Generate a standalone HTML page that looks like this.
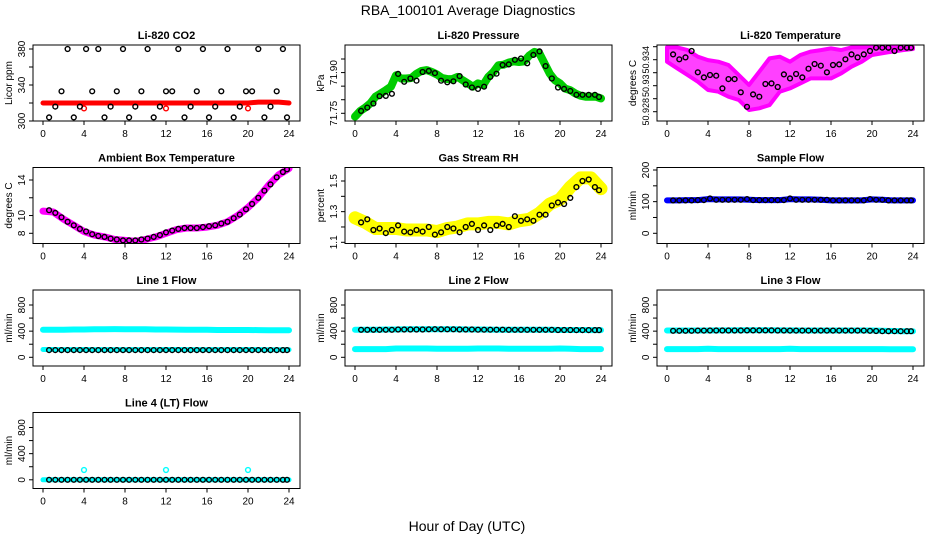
<!DOCTYPE html>
<html><head><meta charset="utf-8"><style>
html,body{margin:0;padding:0;background:#fff;}
svg{display:block;font-family:"Liberation Sans",sans-serif;}
</style></head><body>
<svg id="chart" width="936" height="540" viewBox="0 0 936 540">
<text x="468" y="15" text-anchor="middle" font-size="14">RBA_100101  Average Diagnostics</text>
<text x="467" y="531" text-anchor="middle" font-size="14">Hour of Day (UTC)</text>
</svg>
<script>
// shared sample times (hours) for black average points
const hrs = [0.6,1.2,1.8,2.4,3.0,3.6,4.2,4.8,5.4,6.0,6.6,7.2,7.8,8.4,9.0,9.6,10.2,10.8,11.4,12.0,12.6,13.2,13.8,14.4,15.0,15.6,16.2,16.8,17.4,18.0,18.6,19.2,19.8,20.4,21.0,21.6,22.2,22.8,23.4,23.8];
const hourly = [0,1,2,3,4,5,6,7,8,9,10,11,12,13,14,15,16,17,18,19,20,21,22,23,24];
const half = [0,0.5,1,1.5,2,2.5,3,3.5,4,4.5,5,5.5,6,6.5,7,7.5,8,8.5,9,9.5,10,10.5,11,11.5,12,12.5,13,13.5,14,14.5,15,15.5,16,16.5,17,17.5,18,18.5,19,19.5,20,20.5,21,21.5,22,22.5,23,23.5,24];
const xTicks = [0,4,8,12,16,20,24];

// CO2
const co2Band = [320,320,320,320,320,320,320,320,320,320,320,320,320,320,320,320,320,320,320,320,320,321,321,321,320];
const co2Black = [304,316,333,380,304,316,380,333,380,304,316,333,380,304,316,333,380,304,316,333,333,380,304,316,333,380,304,316,333,380,304,316,333,333,380,304,316,333,380,304];
const co2RedH = [4,12,20];
const co2RedV = [314,314,314];
// Pressure
const presBand = [71.738,71.758,71.771,71.787,71.811,71.823,71.835,71.848,71.890,71.878,71.878,71.880,71.896,71.906,71.909,71.902,71.893,71.880,71.876,71.876,71.884,71.872,71.860,71.848,71.860,71.854,71.884,71.902,71.927,71.929,71.937,71.941,71.939,71.941,71.963,71.976,71.970,71.933,71.896,71.872,71.860,71.841,71.835,71.823,71.815,71.811,71.811,71.811,71.805];
const presBlack = [71.759,71.771,71.786,71.813,71.814,71.822,71.895,71.866,71.878,71.870,71.902,71.906,71.898,71.870,71.864,71.868,71.887,71.856,71.845,71.840,71.848,71.884,71.896,71.928,71.930,71.947,71.952,71.934,71.965,71.978,71.924,71.878,71.845,71.840,71.832,71.818,71.818,71.818,71.818,71.810];
// Li-820 temperature
const tempUpper = [50.93295,50.93295,50.93274,50.93223,50.93197,50.93185,50.93159,50.93082,50.93005,50.93108,50.93210,50.93223,50.93185,50.93236,50.93262,50.93274,50.93287,50.93274,50.93295,50.93295,50.93295,50.93295,50.93295,50.93295,50.93295];
const tempLower = [50.93185,50.93133,50.93082,50.93031,50.92967,50.92954,50.92915,50.92890,50.92813,50.92826,50.92851,50.92954,50.92979,50.93018,50.93056,50.93056,50.93056,50.93095,50.93146,50.93185,50.93236,50.93249,50.93262,50.93274,50.93282];
const tempBlack = [50.93241,50.93203,50.93218,50.93267,50.93103,50.93064,50.93082,50.93077,50.92979,50.93051,50.93051,50.92949,50.92838,50.92933,50.92915,50.93013,50.93018,50.92990,50.93087,50.93056,50.93090,50.93064,50.93131,50.93167,50.93154,50.93103,50.93159,50.93164,50.93203,50.93241,50.93218,50.93241,50.93267,50.93292,50.93292,50.93292,50.93267,50.93292,50.93292,50.93292];
// Ambient box temperature
const ambBand = [10.5,10.4,9.6,8.9,8.2,7.8,7.6,7.3,7.2,7.1,7.3,7.6,8.0,8.4,8.6,8.6,8.7,8.9,9.3,10.0,10.9,12.0,13.4,14.6,15.3];
const ambBlack = [10.6,10.3,9.8,9.3,8.9,8.5,8.2,7.9,7.7,7.6,7.4,7.3,7.2,7.2,7.2,7.3,7.4,7.6,7.8,8.1,8.3,8.5,8.6,8.6,8.6,8.7,8.8,8.9,9.1,9.3,9.7,10.1,10.7,11.3,12.0,12.8,13.5,14.3,14.9,15.2];
// Gas stream RH
const rhBand = [1.26,1.23,1.19,1.19,1.19,1.18,1.18,1.18,1.17,1.19,1.20,1.22,1.22,1.23,1.23,1.22,1.24,1.25,1.29,1.35,1.38,1.46,1.52,1.52,1.45];
const rhBlack = [1.23,1.25,1.18,1.19,1.16,1.18,1.21,1.17,1.165,1.18,1.17,1.20,1.15,1.165,1.20,1.19,1.165,1.20,1.22,1.18,1.21,1.18,1.21,1.22,1.20,1.27,1.24,1.25,1.24,1.28,1.28,1.34,1.36,1.35,1.39,1.46,1.50,1.51,1.46,1.44];
// Sample flow
const sfBand = [104,104,105,105,108,107,107,107,106,105,105,105,108,107,107,106,104,104,104,104,107,106,104,104,104];
const sfBlack = [104,104,104,104,105,105,110,106,106,106,106,106,108,105,105,105,105,105,105,110,106,106,106,106,106,106,104,104,104,104,104,104,108,106,106,104,104,104,104,104];
// Line flows
const l1Upper = [420,420,422,425,425,428,430,432,430,430,428,425,425,424,422,420,420,418,418,418,418,416,415,415,415];
const l1Lower = [120,120,118,118,120,118,118,118,118,118,118,118,120,120,118,118,118,118,118,118,120,118,116,116,116];
const l1Black = [110,110,110,110,110,110,110,110,110,110,110,110,110,110,110,110,110,110,110,110,110,110,110,110,110,110,110,110,110,110,110,110,110,110,110,110,110,110,110,110];
const l2Upper = [420,420,422,425,425,428,430,430,430,430,428,425,425,424,422,420,420,420,420,420,418,418,418,416,416];
const l2Lower = [125,125,125,125,135,135,135,135,130,130,130,130,135,135,135,130,130,130,130,130,135,130,125,125,125];
const l2Black = [420,420,420,420,420,420,425,425,425,425,425,428,430,428,428,428,425,425,425,422,422,422,422,422,420,420,420,420,420,420,420,420,418,418,418,416,416,416,416,416];
const l3Upper = [410,410,410,410,410,412,412,415,415,415,415,412,412,410,410,410,410,410,410,410,410,405,402,400,400];
const l3Lower = [125,125,125,125,130,125,125,125,125,125,125,125,130,125,125,125,125,125,125,125,125,125,122,122,122];
const l3Black = [405,405,405,405,408,408,410,410,410,410,410,410,412,412,412,412,412,410,410,408,408,408,408,408,408,408,408,408,408,408,408,408,405,402,400,400,400,400,400,400];
const l4Band = [0,0,0,0,0,0,0,0,0,0,0,0,0,0,0,0,0,0,0,0,0,0,0,0,0];
const l4Black = [0,0,0,0,0,0,0,0,0,0,0,0,0,0,0,0,0,0,0,0,0,0,0,0,0,0,0,0,0,0,0,0,0,0,0,0,0,0,0,0];
const l4SpikeH = [4,12,20];
const l4SpikeV = [150,150,150];

const flowTicks = [0,200,400,600,800];
const flowLabels = ["0","","400","","800"];

const svg = document.getElementById('chart');
const NS = 'http://www.w3.org/2000/svg';
function mk(tag, attrs, parent){const e=document.createElementNS(NS,tag);for(const k in attrs)e.setAttribute(k,attrs[k]);(parent||svg).appendChild(e);return e;}

function panel(cfg){
  const g = mk('g',{});
  
  
  const bx = 33 + 312*cfg.col, by = 45 + 122.5*cfg.row, bw = 267, bh = 76;
  const xs = h => 43 + 312*cfg.col + h*10.25;
  const ys = v => by + cfg.ya[1] + (v - cfg.ya[0])*(cfg.yb[1]-cfg.ya[1])/(cfg.yb[0]-cfg.ya[0]);
  const cp = mk('clipPath',{id:'c'+cfg.name},g);
  mk('rect',{x:bx,y:by,width:bw,height:bh},cp);
  const plot = mk('g',{'clip-path':'url(#c'+cfg.name+')'},g);
  
  
  (cfg.bands||[]).forEach(b=>{
    const pl = mk('polyline',{points:b.h.map((h,i)=>xs(h).toFixed(1)+','+ys(b.v[i]).toFixed(1)).join(' '),fill:'none',stroke:b.color,'stroke-width':b.w,'stroke-linejoin':'round','stroke-linecap':'round'},plot);
    
    
  });
  (cfg.areas||[]).forEach(a=>{
    const pts = a.h.map((h,i)=>xs(h).toFixed(1)+','+ys(a.up[i]).toFixed(1)).concat(a.h.slice().reverse().map((h,j)=>{const i=a.h.length-1-j;return xs(h).toFixed(1)+','+ys(a.lo[i]).toFixed(1);}));
    const p = mk('polygon',{points:pts.join(' '),fill:a.color,'fill-opacity':0.75,stroke:a.color,'stroke-width':4,'stroke-linejoin':'round'},plot);
    
    
  });
  (cfg.points||[]).forEach(s=>{
    s.h.forEach((h,i)=>{
      const c = mk('circle',{cx:xs(h).toFixed(1),cy:ys(s.v[i]).toFixed(1),r:2.4,fill:'none',stroke:s.color,'stroke-width':1.4},plot);
      
      
    });
  });
  const box = mk('rect',{x:bx,y:by,width:bw,height:bh,fill:'none',stroke:'#000','stroke-width':1},g);
  
  
  const t = mk('text',{x:bx+bw/2,y:by-6,'text-anchor':'middle','font-size':11,'font-weight':'bold'},g);
  t.textContent = cfg.title;
  
  
  xTicks.forEach(v=>{
    mk('line',{x1:xs(v),x2:xs(v),y1:by+bh,y2:by+bh+4,stroke:'#000'},g);
    const tl = mk('text',{x:xs(v),y:by+bh+16,'text-anchor':'middle','font-size':10},g);
    tl.textContent = v;
    
    
  });
  const fs = cfg.yFont || 10;
  cfg.yTicks.forEach((v,i)=>{
    const y = ys(v);
    mk('line',{x1:bx-4,x2:bx,y1:y,y2:y,stroke:'#000'},g);
    if(cfg.yLabels[i]){
      const yl = mk('text',{x:bx-8,y:y,'text-anchor':'middle','font-size':fs,transform:'rotate(-90 '+(bx-8)+' '+y+')'},g);
      yl.textContent = cfg.yLabels[i];
      
      
    }
  });
  const yt = mk('text',{x:bx-21,y:by+bh/2,'text-anchor':'middle','font-size':10,transform:'rotate(-90 '+(bx-21)+' '+(by+bh/2)+')'},g);
  yt.textContent = cfg.ylab;
  
  
}

panel({name:'co2-panel',col:0,row:0,title:'Li-820 CO2',ylab:'Licor ppm',ya:[300,76],yb:[380,4],
  yTicks:[300,320,340,360,380],yLabels:['300','','340','','380'],
  bands:[{id:'co2',h:hourly,v:co2Band,color:'#ff0000',w:5}],
  points:[{id:'co2-red',h:co2RedH,v:co2RedV,color:'#ff0000'},{id:'co2-avg',h:hrs,v:co2Black,color:'#000'}]});
panel({name:'pressure-panel',col:1,row:0,title:'Li-820 Pressure',ylab:'kPa',ya:[71.75,68.3],yb:[71.95,14],
  yTicks:[71.75,71.80,71.85,71.90,71.95],yLabels:['71.75','','','71.90',''],
  bands:[{id:'pressure',h:half,v:presBand,color:'#00cc00',w:8}],
  points:[{id:'pressure-avg',h:hrs,v:presBlack,color:'#000'}]});
panel({name:'li820-temp-panel',col:2,row:0,title:'Li-820 Temperature',ylab:'degrees C',ya:[50.928,66.7],yb:[50.933,1.7],yFont:9,
  yTicks:[50.928,50.929,50.930,50.931,50.932,50.933],yLabels:['50.928','','50.93','','50.934',''],
  areas:[{id:'li820-temp',h:hourly,up:tempUpper,lo:tempLower,color:'#ff00ff'}],
  points:[{id:'li820-temp-avg',h:hrs,v:tempBlack,color:'#000'}]});
panel({name:'ambient-temp-panel',col:0,row:1,title:'Ambient Box Temperature',ylab:'degrees C',ya:[8,65.8],yb:[14,12.5],
  yTicks:[8,10,12,14],yLabels:['8','10','','14'],
  bands:[{id:'ambient-temp',h:hourly,v:ambBand,color:'#ff00ff',w:7}],
  points:[{id:'ambient-temp-avg',h:hrs,v:ambBlack,color:'#000'}]});
panel({name:'rh-panel',col:1,row:1,title:'Gas Stream RH',ylab:'percent',ya:[1.1,74.8],yb:[1.5,13.5],
  yTicks:[1.1,1.2,1.3,1.4,1.5],yLabels:['1.1','','1.3','','1.5'],
  bands:[{id:'rh',h:hourly,v:rhBand,color:'#ffff00',w:13}],
  points:[{id:'rh-avg',h:hrs,v:rhBlack,color:'#000'}]});
panel({name:'sample-flow-panel',col:2,row:1,title:'Sample Flow',ylab:'ml/min',ya:[0,65.8],yb:[200,2.5],
  yTicks:[0,50,100,150,200],yLabels:['0','','100','','200'],
  bands:[{id:'sample-flow',h:hourly,v:sfBand,color:'#0000ff',w:6}],
  points:[{id:'sample-flow-avg',h:hrs,v:sfBlack,color:'#000'}]});
panel({name:'line1-flow-panel',col:0,row:2,title:'Line 1 Flow',ylab:'ml/min',ya:[0,67.3],yb:[800,15],
  yTicks:flowTicks,yLabels:flowLabels,
  bands:[{id:'line1-upper',h:hourly,v:l1Upper,color:'#00ffff',w:6},{id:'line1-lower',h:hourly,v:l1Lower,color:'#00ffff',w:5}],
  points:[{id:'line1-avg',h:hrs,v:l1Black,color:'#000'}]});
panel({name:'line2-flow-panel',col:1,row:2,title:'Line 2 Flow',ylab:'ml/min',ya:[0,67.3],yb:[800,15],
  yTicks:flowTicks,yLabels:flowLabels,
  bands:[{id:'line2-upper',h:hourly,v:l2Upper,color:'#00ffff',w:6},{id:'line2-lower',h:hourly,v:l2Lower,color:'#00ffff',w:6}],
  points:[{id:'line2-avg',h:hrs,v:l2Black,color:'#000'}]});
panel({name:'line3-flow-panel',col:2,row:2,title:'Line 3 Flow',ylab:'ml/min',ya:[0,67.3],yb:[800,15],
  yTicks:flowTicks,yLabels:flowLabels,
  bands:[{id:'line3-upper',h:hourly,v:l3Upper,color:'#00ffff',w:6},{id:'line3-lower',h:hourly,v:l3Lower,color:'#00ffff',w:6}],
  points:[{id:'line3-avg',h:hrs,v:l3Black,color:'#000'}]});
panel({name:'line4-flow-panel',col:0,row:3,title:'Line 4 (LT) Flow',ylab:'ml/min',ya:[0,67.3],yb:[800,15],
  yTicks:flowTicks,yLabels:flowLabels,
  bands:[{id:'line4',h:hourly,v:l4Band,color:'#00ffff',w:5}],
  points:[{id:'line4-spike',h:l4SpikeH,v:l4SpikeV,color:'#00ffff'},{id:'line4-avg',h:hrs,v:l4Black,color:'#000'}]});
</script>
</body></html>
